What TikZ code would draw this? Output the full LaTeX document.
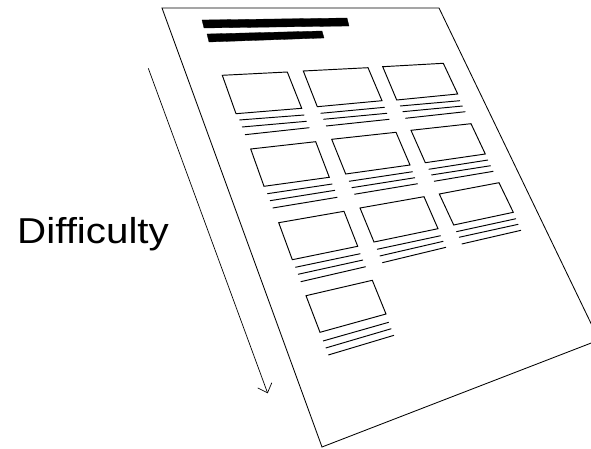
\documentclass[tikz,border=0pt]{standalone}
\usepackage{fontspec}
\setmainfont{Liberation Sans}
\usetikzlibrary{arrows.meta}
\begin{document}
\begin{tikzpicture}[x=1pt,y=-1pt,
  pageedge/.style={line width=0.85pt},
  cardbox/.style={line width=0.95pt, line join=miter},
  cardline/.style={line width=0.95pt},
  titlebar/.style={fill=black, draw=black, line width=0.3pt},
  diffarrow/.style={line width=0.7pt, -{Straight Barb[length=8pt,width=15pt,line width=0.7pt]}},
  label/.style={font=\fontsize{36}{40}\selectfont, inner sep=0pt}]
\useasboundingbox (0,0) rectangle (591,449);
\clip (0,0) rectangle (591,449);

% page
\draw[pageedge] (162,8) -- (439,8) -- (599,340) -- (322,447) -- cycle;

% title bars
\fill[titlebar] (202,20) -- (347,18) -- (349,26) -- (204,28) -- cycle;
\fill[titlebar] (207,34) -- (322,31) -- (324,38) -- (209,42) -- cycle;

% row 1
\draw[cardbox] (222.3,75.3) -- (287.3,72) -- (301.7,108.3) -- (236,113.7) -- cycle;
\draw[cardline] (239.3,120) -- (304.3,115);
\draw[cardline] (242,127) -- (306.7,121.3);
\draw[cardline] (245,134.7) -- (309.3,127.7);

\draw[cardbox] (303.3,71) -- (368,67.7) -- (382,100.7) -- (317.3,106.7) -- cycle;
\draw[cardline] (320.7,113.3) -- (384.7,107.3);
\draw[cardline] (323.3,119.3) -- (387,113.3);
\draw[cardline] (326,126) -- (389.3,119.3);

\draw[cardbox] (382.7,66.7) -- (443.3,63.3) -- (457.7,94) -- (396.7,100) -- cycle;
\draw[cardline] (400,106) -- (460,100.7);
\draw[cardline] (402.7,111.7) -- (462.7,106);
\draw[cardline] (405.3,118.3) -- (465.3,111.7);

% row 2
\draw[cardbox] (250.7,149) -- (315.7,141.7) -- (329.3,177.3) -- (264,186.3) -- cycle;
\draw[cardline] (267.3,193.7) -- (332.3,184);
\draw[cardline] (270,200.7) -- (335,190.3);
\draw[cardline] (272.7,208) -- (337.3,197.3);

\draw[cardbox] (331.7,139.3) -- (396,132.3) -- (410,165) -- (345.7,174) -- cycle;
\draw[cardline] (349,181.3) -- (412.7,171.7);
\draw[cardline] (351.7,187.7) -- (415,177.7);
\draw[cardline] (354.3,194.3) -- (417.7,183.7);

\draw[cardbox] (411,130.3) -- (471,123.7) -- (485.3,154) -- (425.3,162.7) -- cycle;
\draw[cardline] (428.7,169.3) -- (488,160);
\draw[cardline] (431.3,175) -- (490.7,165.7);
\draw[cardline] (434,181.3) -- (493.3,171.3);

% row 3
\draw[cardbox] (278.7,222.7) -- (344,211.3) -- (357.7,246.3) -- (292.3,259.7) -- cycle;
\draw[cardline] (295.3,267.3) -- (360.3,253.7);
\draw[cardline] (298,274.3) -- (363,260);
\draw[cardline] (300.7,281.7) -- (365.7,266.7);

\draw[cardbox] (360,208) -- (424,196.7) -- (438,228.7) -- (374,242) -- cycle;
\draw[cardline] (377,249.3) -- (440.7,235.7);
\draw[cardline] (379.7,256) -- (443.3,241.3);
\draw[cardline] (382.3,262.7) -- (446,247.3);

\draw[cardbox] (439.3,194) -- (499,182.7) -- (513.3,212.3) -- (453.7,225) -- cycle;
\draw[cardline] (456.3,231.7) -- (516,218.7);
\draw[cardline] (459,237.3) -- (518.3,224.3);
\draw[cardline] (461.7,244) -- (521,230.3);

% row 4
\draw[cardbox] (306,295.7) -- (372.3,280.3) -- (386,314) -- (320,332.3) -- cycle;
\draw[cardline] (323,341) -- (388.7,322.3);
\draw[cardline] (325.7,348) -- (391.3,328.7);
\draw[cardline] (328.3,355) -- (394,335.3);

% difficulty arrow
\coordinate (arrstart) at (148.3,68.3);
\coordinate (arrend) at (267.7,393.3);
\draw[diffarrow] (arrstart) -- (arrend);

\node[label, anchor=base west, xscale=1.12] (difflabel) at (17,243.3) {Difficulty};
\end{tikzpicture}
\end{document}
